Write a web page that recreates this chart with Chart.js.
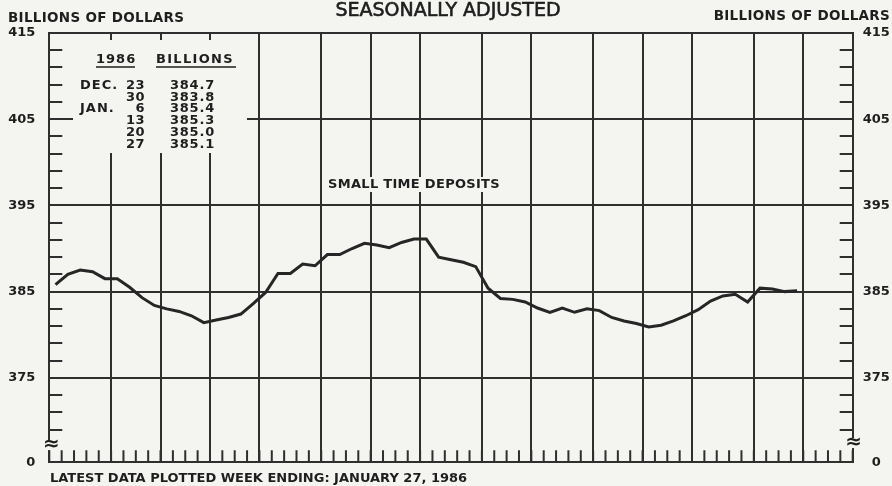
<!DOCTYPE html>
<html>
<head>
<meta charset="utf-8">
<script src="https://cdn.jsdelivr.net/npm/chart.js@4/dist/chart.umd.min.js"></script>
<style>
  html, body { margin: 0; padding: 0; background: #f4f4f1; }
  #wrap { width: 892px; height: 486px; }
</style>
</head>
<body>
<div id="wrap"><canvas id="c" width="892" height="486"></canvas></div>
<script>
// ---- data ----
const weekLabels = [
  '1984-12-03','1984-12-10','1984-12-17','1984-12-24','1984-12-31',
  '1985-01-07','1985-01-14','1985-01-21','1985-01-28',
  '1985-02-04','1985-02-11','1985-02-18','1985-02-25',
  '1985-03-04','1985-03-11','1985-03-18','1985-03-25',
  '1985-04-01','1985-04-08','1985-04-15','1985-04-22','1985-04-29',
  '1985-05-06','1985-05-13','1985-05-20','1985-05-27',
  '1985-06-03','1985-06-10','1985-06-17','1985-06-24',
  '1985-07-01','1985-07-08','1985-07-15','1985-07-22','1985-07-29',
  '1985-08-05','1985-08-12','1985-08-19','1985-08-26',
  '1985-09-02','1985-09-09','1985-09-16','1985-09-23','1985-09-30',
  '1985-10-07','1985-10-14','1985-10-21','1985-10-28',
  '1985-11-04','1985-11-11','1985-11-18','1985-11-25',
  '1985-12-02','1985-12-09','1985-12-16','1985-12-23','1985-12-30',
  '1986-01-06','1986-01-13','1986-01-20','1986-01-27',
  '1986-02-03','1986-02-10','1986-02-17','1986-02-24'
];
const smallTimeDeposits = [
  385.8, 387.0, 387.5, 387.3, 386.5,
  386.5, 385.5, 384.3, 383.4,
  383.0, 382.7, 382.2, 381.4,
  381.7, 382.0, 382.4, 383.6,
  384.9, 387.1, 387.1, 388.2, 388.0,
  389.3, 389.3, 390.0, 390.6,
  390.4, 390.1, 390.7, 391.1,
  391.1, 389.0, 388.7, 388.4, 387.9,
  385.4, 384.2, 384.1, 383.8,
  383.1, 382.6, 383.1, 382.6, 383.0,
  382.8, 382.0, 381.6, 381.3,
  380.9, 381.1, 381.6, 382.2,
  382.9, 383.9, 384.5, 384.7, 383.8,
  385.4, 385.3, 385.0, 385.1
];
const yTickValues = [365.2, 375, 385, 395, 405, 415];
const yTickLabels = ['0', '375', '385', '395', '405', '415'];
const yMinorValues = [369, 371, 373, 377, 379, 381, 383, 387, 389, 391, 393, 397, 399, 401, 403, 407, 409, 411, 413];
const tableMonths = ['DEC.', '', 'JAN.', '', '', ''];
const tableDays = ['23', '30', '6', '13', '20', '27'];
const tableValues = ['384.7', '383.8', '385.4', '385.3', '385.0', '385.1'];

// ---- styles ----
const BG = '#f4f4f1';
const INK = '#2f2f2f';
const TXT = '#1e1e1e';
const FONT = '"DejaVu Sans", "Liberation Sans", sans-serif';

function isMonthStart(i) {
  if (typeof i !== 'number' || i <= 0 || i >= weekLabels.length) return false;
  const a = weekLabels[i], b = weekLabels[i - 1];
  if (!a || !b) return false;
  return a.slice(5, 7) !== b.slice(5, 7);
}

function drawText(ctx, str, x, y, opts) {
  ctx.save();
  ctx.font = opts.font;
  ctx.fillStyle = TXT;
  ctx.textAlign = opts.align || 'left';
  ctx.textBaseline = 'middle';
  try { ctx.letterSpacing = opts.spacing || '0px'; } catch (e) {}
  ctx.fillText(str, x, y);
  if (opts.stroke) {
    ctx.strokeStyle = TXT;
    ctx.lineWidth = opts.stroke;
    ctx.strokeText(str, x, y);
  }
  ctx.restore();
}

const deco = {
  id: 'deco',
  beforeDraw(chart) {
    const ctx = chart.ctx;
    ctx.save();
    ctx.fillStyle = BG;
    ctx.fillRect(0, 0, chart.width, chart.height);
    ctx.restore();
  },
  beforeDatasetsDraw(chart) {
    const { ctx, chartArea: a, scales } = chart;
    const x = scales.x, y = scales.y;
    ctx.save();
    // clear areas behind the inset table and the series label
    ctx.fillStyle = BG;
    ctx.fillRect(73, 40, 174, 113);
    ctx.fillRect(324, 177, 180, 15);
    ctx.strokeStyle = INK;
    ctx.lineWidth = 2;
    ctx.beginPath();
    yMinorValues.forEach(v => {
      const py = Math.round(y.getPixelForValue(v));
      ctx.moveTo(a.left, py); ctx.lineTo(a.left + 13, py);
      ctx.moveTo(a.right - 13, py); ctx.lineTo(a.right, py);
    });
    for (let k = 0; k <= weekLabels.length; k++) {
      const px = x.getPixelForValue(k - 0.5);
      ctx.moveTo(px, a.bottom); ctx.lineTo(px, a.bottom - 12);
    }
    ctx.stroke();
    // axis breaks
    const yb = y.getPixelForValue(367.2);
    ctx.fillStyle = BG;
    ctx.fillRect(a.left - 3, yb - 5, 6, 10);
    ctx.fillRect(a.right - 3, yb - 7, 6, 10);
    ctx.restore();
    drawText(ctx, '\u2248', a.left + 2, yb, { font: 'bold 20px ' + FONT, align: 'center' });
    drawText(ctx, '\u2248', a.right + 1, yb - 2, { font: 'bold 20px ' + FONT, align: 'center' });
  },
  afterDraw(chart) {
    const ctx = chart.ctx;
    drawText(ctx, 'SEASONALLY ADJUSTED', 448, 11, { font: '19px ' + FONT, align: 'center', stroke: 0.6 });
    drawText(ctx, 'BILLIONS OF DOLLARS', 8, 18, { font: 'bold 13.5px ' + FONT, spacing: '0.3px' });
    drawText(ctx, 'BILLIONS OF DOLLARS', 890, 16, { font: 'bold 13.5px ' + FONT, align: 'right', spacing: '0.3px' });
    drawText(ctx, 'SMALL TIME DEPOSITS', 414, 184.5, { font: 'bold 13px ' + FONT, align: 'center', spacing: '0.3px' });
    drawText(ctx, 'LATEST DATA PLOTTED WEEK ENDING: JANUARY 27, 1986', 50, 479, { font: 'bold 13px ' + FONT });
    // inset table
    const tf = 'bold 13px ' + FONT;
    drawText(ctx, '1986', 96, 60, { font: tf, spacing: '1px' });
    drawText(ctx, 'BILLIONS', 156, 60, { font: tf, spacing: '1.3px' });
    ctx.save();
    ctx.strokeStyle = TXT; ctx.lineWidth = 1.5;
    ctx.beginPath();
    ctx.moveTo(96, 67); ctx.lineTo(135, 67);
    ctx.moveTo(156, 67); ctx.lineTo(236, 67);
    ctx.stroke();
    ctx.restore();
    for (let i = 0; i < tableDays.length; i++) {
      const ry = 85.3 + 11.9 * i;
      if (tableMonths[i]) drawText(ctx, tableMonths[i], 80, ry, { font: tf, spacing: '1px' });
      drawText(ctx, tableDays[i], 145, ry, { font: tf, align: 'right', spacing: '0.5px' });
      drawText(ctx, tableValues[i], 215, ry, { font: tf, align: 'right', spacing: '0.8px' });
    }
  }
};

const tickFont = { family: FONT, size: 13, weight: 'bold' };

new Chart(document.getElementById('c'), {
  type: 'line',
  data: {
    labels: weekLabels,
    datasets: [{
      label: 'SMALL TIME DEPOSITS',
      data: smallTimeDeposits,
      borderColor: '#262626',
      borderWidth: 3,
      pointRadius: 0,
      tension: 0,
      fill: false
    }]
  },
  options: {
    responsive: false,
    devicePixelRatio: 1,
    animation: false,
    layout: { padding: { top: 33, left: 0, right: 0, bottom: 0 } },
    plugins: { legend: { display: false }, tooltip: { enabled: false }, title: { display: false } },
    scales: {
      x: {
        type: 'category',
        position: 'bottom',
        offset: true,
        grid: {
          offset: true,
          drawTicks: false,
          lineWidth: 2,
          color: ctx => isMonthStart(ctx.index) ? INK : 'rgba(0,0,0,0)'
        },
        border: { display: true, color: INK, width: 2 },
        ticks: { display: false },
        afterFit: s => { s.height = 23.7; }
      },
      x2: {
        type: 'category',
        position: 'top',
        offset: true,
        labels: weekLabels,
        grid: { display: false, drawTicks: false },
        border: { display: true, color: INK, width: 2 },
        ticks: { display: false },
        afterFit: s => { s.height = 0; }
      },
      y: {
        type: 'linear',
        position: 'left',
        min: yTickValues[0],
        max: yTickValues[yTickValues.length - 1],
        afterBuildTicks: s => { s.ticks = yTickValues.map(v => ({ value: v })); },
        ticks: {
          font: tickFont, color: TXT, padding: 14,
          callback: (v) => yTickLabels[yTickValues.indexOf(v)]
        },
        grid: { color: INK, lineWidth: 2, drawTicks: false },
        border: { display: true, color: INK, width: 2 },
        afterFit: s => { s.width = 49.3; }
      },
      y2: {
        type: 'linear',
        position: 'right',
        min: yTickValues[0],
        max: yTickValues[yTickValues.length - 1],
        afterBuildTicks: s => { s.ticks = yTickValues.map(v => ({ value: v })); },
        ticks: {
          font: tickFont, color: TXT, padding: 10, crossAlign: 'center',
          callback: (v) => yTickLabels[yTickValues.indexOf(v)]
        },
        grid: { display: false, drawTicks: false },
        border: { display: true, color: INK, width: 2 },
        afterFit: s => { s.width = 39.3; }
      }
    }
  },
  plugins: [deco]
});
</script>
</body>
</html>
